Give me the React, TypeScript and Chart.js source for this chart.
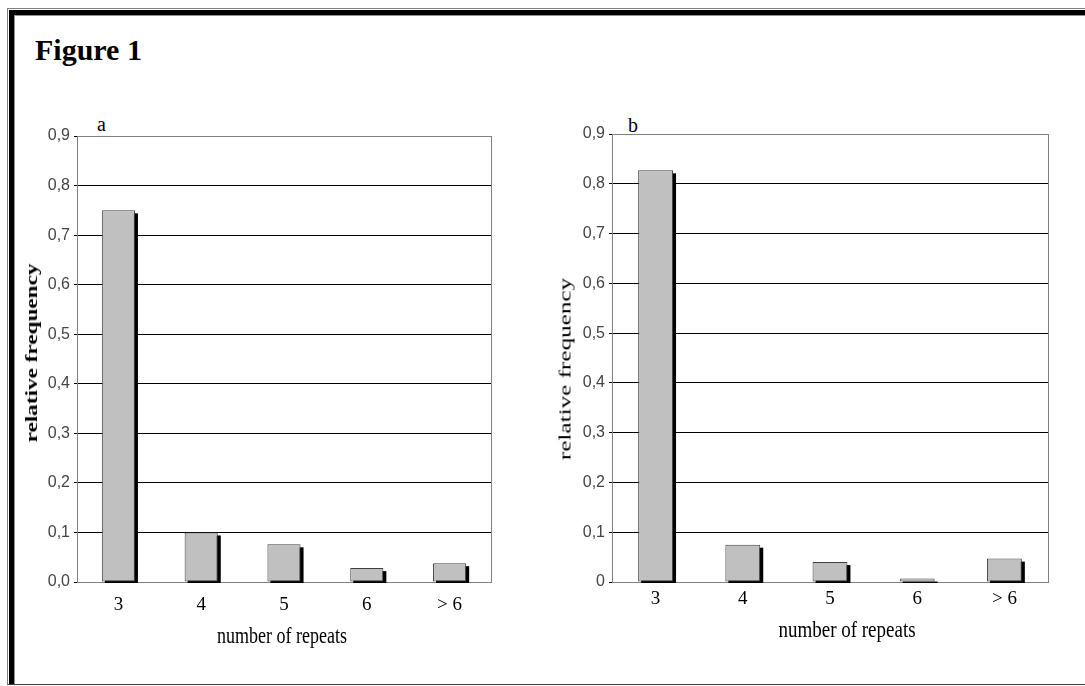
import React, { useEffect, useRef } from 'react';
import { Chart, registerables } from 'chart.js';

Chart.register(...registerables);

// ---- data ----
const categories = ['3', '4', '5', '6', '> 6'];
const seriesA = [0.75, 0.1, 0.076, 0.028, 0.038];
const seriesB = [0.827, 0.075, 0.04, 0.007, 0.047];
const yTicksA = ['0,0', '0,1', '0,2', '0,3', '0,4', '0,5', '0,6', '0,7', '0,8', '0,9'];
const yTicksB = ['0', '0,1', '0,2', '0,3', '0,4', '0,5', '0,6', '0,7', '0,8', '0,9'];
const figureTitle = 'Figure 1';
const panelLabels = ['a', 'b'];
const xAxisTitle = 'number of repeats';
const yAxisTitle = 'relative frequency';

const SERIF = "'Liberation Serif', 'Times New Roman', serif";
const SANS = "'Liberation Sans Narrow', 'Liberation Sans', Arial, sans-serif";

type PanelCfg = {
  left: number;
  top: number;
  width: number;
  height: number;
  yWidth: number;
  padTop: number;
  padRight: number;
  xHeight: number;
  xTickPad: number;
  values: number[];
  yTicks: string[];
};

const panels: PanelCfg[] = [
  { left: 16, top: 100, width: 484, height: 560, yWidth: 61, padTop: 36, padRight: 9, xHeight: 78, xTickPad: 12, values: seriesA, yTicks: yTicksA },
  { left: 550, top: 100, width: 510, height: 560, yWidth: 62, padTop: 34, padRight: 12, xHeight: 78, xTickPad: 6, values: seriesB, yTicks: yTicksB },
];

const framePlugin = {
  id: 'frameAndShadow',
  beforeDatasetsDraw(chart: any) {
    const { ctx, chartArea } = chart;
    // right border of plot area
    ctx.save();
    ctx.strokeStyle = '#808080';
    ctx.lineWidth = 1;
    const rx = Math.round(chartArea.right) + 0.5;
    ctx.beginPath();
    ctx.moveTo(rx, chartArea.top);
    ctx.lineTo(rx, chartArea.bottom);
    ctx.stroke();
    ctx.restore();
    // drop shadows of bars
    const meta = chart.getDatasetMeta(0);
    ctx.save();
    ctx.beginPath();
    ctx.rect(chartArea.left, chartArea.top - 10, chartArea.right - chartArea.left, chartArea.bottom - chartArea.top + 11);
    ctx.clip();
    ctx.fillStyle = '#000';
    meta.data.forEach((bar: any) => {
      const { x, y, base, width } = bar.getProps(['x', 'y', 'base', 'width'], true);
      ctx.fillRect(x - width / 2 + 3, y + 3, width, base - y);
    });
    ctx.restore();
  },
};

function Panel({ cfg }: { cfg: PanelCfg }) {
  const ref = useRef<HTMLCanvasElement>(null);
  useEffect(() => {
    const chart = new Chart(ref.current as HTMLCanvasElement, {
      type: 'bar',
      data: {
        labels: categories,
        datasets: [
          {
            data: cfg.values,
            backgroundColor: '#c0c0c0',
            borderColor: '#404040',
            borderWidth: 1,
            borderSkipped: false,
            barPercentage: 0.4,
            categoryPercentage: 1,
          },
        ],
      },
      plugins: [framePlugin],
      options: {
        animation: false,
        responsive: true,
        maintainAspectRatio: false,
        layout: { padding: { top: cfg.padTop, right: cfg.padRight, left: 0, bottom: 0 } },
        plugins: { legend: { display: false }, tooltip: { enabled: false }, title: { display: false } },
        scales: {
          x: {
            grid: { display: false, drawTicks: false },
            border: { display: true, color: '#808080', width: 1 },
            ticks: { color: '#000', font: { family: SERIF, size: 19 }, padding: cfg.xTickPad, maxRotation: 0 },
            afterFit: (scale: any) => {
              scale.height = cfg.xHeight;
            },
          },
          y: {
            min: 0,
            max: 0.9,
            grid: {
              color: (c: any) => {
                const v = c.tick ? c.tick.value : 0;
                return v > 0.85 || v < 0.01 ? '#808080' : '#000';
              },
              tickColor: '#000',
              tickLength: 3,
              lineWidth: 1,
            },
            border: { display: true, color: '#808080', width: 1 },
            ticks: {
              stepSize: 0.1,
              color: '#444',
              padding: 4,
              font: { family: SANS, size: 16 },
              callback: (_v: any, i: number) => cfg.yTicks[i],
            },
            afterFit: (scale: any) => {
              scale.width = cfg.yWidth;
            },
          },
        },
      },
    } as any);
    return () => chart.destroy();
  }, []);
  return (
    <div style={{ position: 'absolute', left: cfg.left, top: cfg.top, width: cfg.width, height: cfg.height }}>
      <canvas ref={ref} />
    </div>
  );
}

function Text({ x, baseline, size, bold, children, center, scaleY }: any) {
  const sy = scaleY || 1;
  return (
    <div
      style={{
        position: 'absolute',
        left: x,
        top: baseline - 0.8375 * size,
        fontFamily: SERIF,
        fontSize: size,
        fontWeight: bold ? 'bold' : 'normal',
        lineHeight: 1,
        whiteSpace: 'nowrap',
        color: '#000',
        transformOrigin: `50% ${0.8375 * size}px`,
        transform: `${center ? 'translateX(-50%) ' : ''}scaleY(${sy})`,
      }}
    >
      {children}
    </div>
  );
}

function VText({ cx, cy, size, bold, stretch, children }: any) {
  return (
    <div
      style={{
        position: 'absolute',
        left: cx,
        top: cy,
        fontFamily: SERIF,
        fontSize: size,
        fontWeight: bold ? 'bold' : 'normal',
        lineHeight: 1,
        whiteSpace: 'nowrap',
        color: '#000',
        transform: `translate(-50%, -50%) rotate(-90deg) scaleX(${stretch})`,
      }}
    >
      {children}
    </div>
  );
}

export default function App() {
  useEffect(() => {
    document.documentElement.style.overflow = 'hidden';
    document.body.style.overflow = 'hidden';
  }, []);
  return (
    <div>
      {/* outer frame */}
      <div style={{ position: 'absolute', left: 7, top: 8, width: 1085 - 7, height: 677, borderTop: '1px solid #808080', borderLeft: '1px solid #808080', borderBottom: '1px solid #404040', boxSizing: 'border-box' }} />
      <div style={{ position: 'absolute', left: 9, top: 10, width: 1085 - 9, height: 674, borderTop: '5px solid #000', borderLeft: '5px solid #000', boxSizing: 'border-box' }} />
      <div style={{ position: 'absolute', left: 14, top: 15, width: 1085 - 14, height: 669, borderTop: '1px solid #909090', borderLeft: '1px solid #909090', boxSizing: 'border-box' }} />

      <Text x={35} baseline={60} size={30} bold>{figureTitle}</Text>
      <Text x={97} baseline={131} size={20}>{panelLabels[0]}</Text>
      <Text x={628} baseline={132} size={20}>{panelLabels[1]}</Text>

      <Panel cfg={panels[0]} />
      <Panel cfg={panels[1]} />

      <VText cx={32} cy={353} size={16} bold stretch={1.45}>{yAxisTitle}</VText>
      <VText cx={565} cy={369} size={17} stretch={1.48}>{yAxisTitle}</VText>

      <Text x={282} baseline={643} size={18} center scaleY={1.25}>{xAxisTitle}</Text>
      <Text x={847} baseline={637} size={19} center scaleY={1.25}>{xAxisTitle}</Text>
    </div>
  );
}
